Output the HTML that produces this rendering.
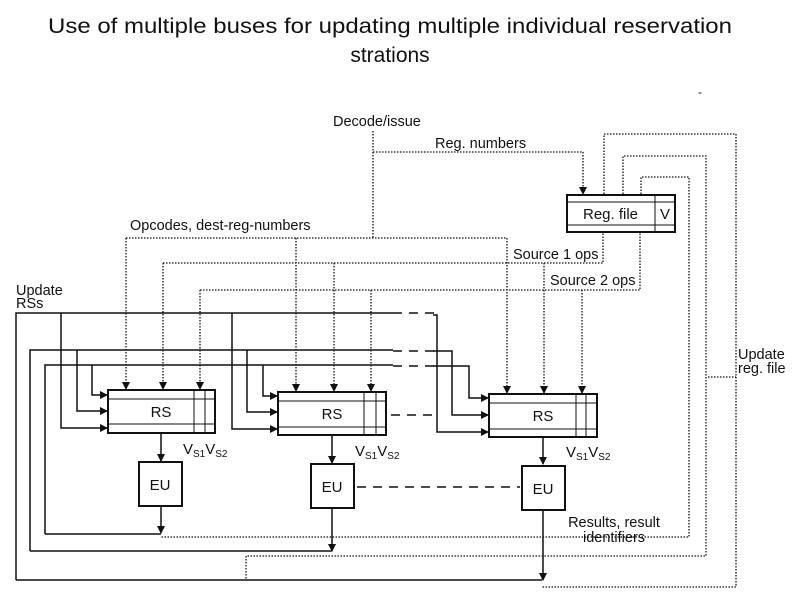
<!DOCTYPE html>
<html><head><meta charset="utf-8"><style>
html,body{margin:0;padding:0;background:#fff;width:794px;height:595px;overflow:hidden}
svg{display:block}
text{font-family:"Liberation Sans",sans-serif;fill:#111}
</style></head><body>
<svg width="794" height="595" viewBox="0 0 794 595" xmlns="http://www.w3.org/2000/svg">
<defs>
<marker id="a" markerWidth="8" markerHeight="8" refX="7" refY="4" orient="auto" markerUnits="userSpaceOnUse"><path d="M0,0 L8,4 L0,8 z" fill="#111"/></marker>
</defs>
<text x="48" y="33" font-size="21" textLength="684" lengthAdjust="spacingAndGlyphs">Use of multiple buses for updating multiple individual reservation</text>
<text x="390" y="62" font-size="21" text-anchor="middle">strations</text>
<text x="698" y="96" font-size="12">-</text>

<g font-size="14.5">
<text x="333" y="126">Decode/issue</text>
<text x="435" y="148">Reg. numbers</text>
<text x="130" y="230">Opcodes, dest-reg-numbers</text>
<text x="513" y="259">Source 1 ops</text>
<text x="550" y="285">Source 2 ops</text>
<text x="16" y="295">Update</text>
<text x="16" y="308">RSs</text>
<text x="738" y="359">Update</text>
<text x="738" y="373">reg. file</text>
<text x="614" y="527" text-anchor="middle">Results, result</text>
<text x="614" y="542" text-anchor="middle">identifiers</text>
</g>

<g fill="none" stroke="#111" stroke-width="1.3" stroke-dasharray="1.5,1.5">
<path d="M373,131 V238"/>
<path d="M373,152 H583 V194" marker-end="url(#a)"/>
<path d="M604,194 V134 H736 V587 H542"/>
<path d="M623,194 V156 H706 V556 H246 V580"/>
<path d="M641,194 V177 H689 V537 H161"/>
<path d="M708,377 H736"/>
<path d="M126,238 H507"/>
<path d="M163,263 H603 V233"/>
<path d="M200,290 H640 V233"/>
<path d="M126,238 V389" marker-end="url(#a)"/>
<path d="M163,263 V389" marker-end="url(#a)"/>
<path d="M200,290 V389" marker-end="url(#a)"/>
<path d="M296,238 V391" marker-end="url(#a)"/>
<path d="M334,263 V391" marker-end="url(#a)"/>
<path d="M371,290 V391" marker-end="url(#a)"/>
<path d="M507,238 V393" marker-end="url(#a)"/>
<path d="M544,263 V393" marker-end="url(#a)"/>
<path d="M582,290 V393" marker-end="url(#a)"/>
</g>

<g fill="none" stroke="#111" stroke-width="1.5">
<path d="M16,580 V313 H393"/>
<path d="M433,315 H437 V432 H488" marker-end="url(#a)"/>
<path d="M30,551 V350 H393"/>
<path d="M433,351 H452 V415 H488" marker-end="url(#a)"/>
<path d="M45,534 V365 H393"/>
<path d="M433,366 H469 V398 H488" marker-end="url(#a)"/>
<path d="M61,313 V428 H107" marker-end="url(#a)"/>
<path d="M77,350 V411 H107" marker-end="url(#a)"/>
<path d="M92,365 V395 H107" marker-end="url(#a)"/>
<path d="M232,313 V429 H277" marker-end="url(#a)"/>
<path d="M247,350 V412 H277" marker-end="url(#a)"/>
<path d="M263,365 V396 H277" marker-end="url(#a)"/>
<path d="M45,534 H161"/>
<path d="M30,551 H332"/>
<path d="M16,580 H542"/>
<path d="M161,506 V533" marker-end="url(#a)"/>
<path d="M332,508 V551" marker-end="url(#a)"/>
<path d="M543,510 V580" marker-end="url(#a)"/>
<path d="M161,433 V461" marker-end="url(#a)"/>
<path d="M332,435 V463" marker-end="url(#a)"/>
<path d="M543,437 V464" marker-end="url(#a)"/>
</g>
<g fill="none" stroke="#111" stroke-width="1.5" stroke-dasharray="9,7">
<path d="M393,313 H437"/>
<path d="M393,351 H437"/>
<path d="M393,366 H437"/>
<path d="M391,415 H432"/>
<path d="M357,487 H520"/>
</g>

<g fill="#fff" stroke="#111" stroke-width="2">
<rect x="567" y="195" width="108" height="37"/>
<rect x="108" y="390" width="107" height="43"/>
<rect x="278" y="392" width="108" height="43"/>
<rect x="489" y="394" width="108" height="43"/>
<rect x="139" y="462" width="43" height="44"/>
<rect x="311" y="464" width="43" height="44"/>
<rect x="522" y="466" width="43" height="44"/>
</g>
<g fill="none" stroke="#111" stroke-width="1">
<path d="M567,202 H675 M567,225 H675 M655,195 V232"/>
<path d="M108,399 H215 M108,424 H215 M194,390 V433 M205,390 V433"/>
<path d="M278,401 H386 M278,427 H386 M364,392 V435 M376,392 V435"/>
<path d="M489,403 H597 M489,429 H597 M576,394 V437 M586,394 V437"/>
</g>
<g font-size="15">
<text x="583" y="219">Reg. file</text>
<text x="660" y="219">V</text>
<text x="161" y="417" text-anchor="middle">RS</text>
<text x="332" y="419" text-anchor="middle">RS</text>
<text x="543" y="421" text-anchor="middle">RS</text>
<text x="160" y="490" text-anchor="middle">EU</text>
<text x="332" y="492" text-anchor="middle">EU</text>
<text x="543" y="494" text-anchor="middle">EU</text>
<text x="183" y="454">V<tspan font-size="10" dy="3">S1</tspan><tspan dy="-3">V</tspan><tspan font-size="10" dy="3">S2</tspan></text>
<text x="355" y="456">V<tspan font-size="10" dy="3">S1</tspan><tspan dy="-3">V</tspan><tspan font-size="10" dy="3">S2</tspan></text>
<text x="566" y="457">V<tspan font-size="10" dy="3">S1</tspan><tspan dy="-3">V</tspan><tspan font-size="10" dy="3">S2</tspan></text>
</g>
</svg>
</body></html>
